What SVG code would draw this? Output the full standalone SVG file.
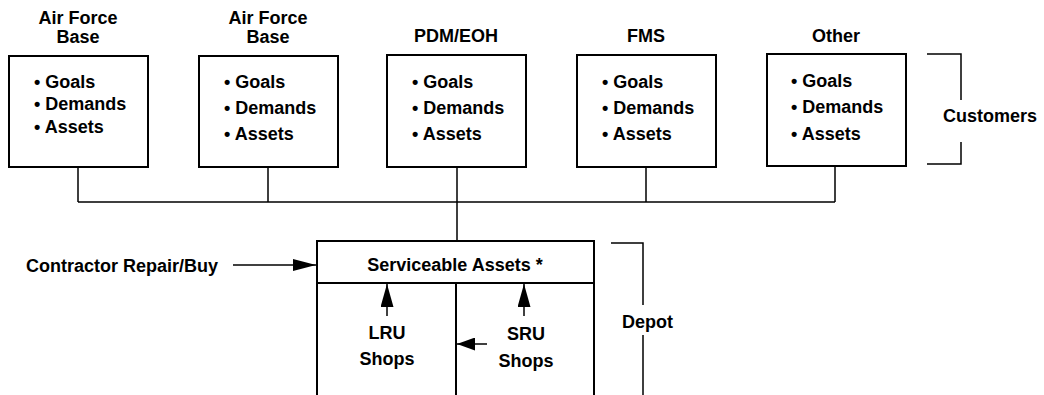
<svg xmlns="http://www.w3.org/2000/svg" width="1044" height="395" viewBox="0 0 1044 395">
<defs>
<style>
text{font-family:"Liberation Sans",Arial,sans-serif;font-weight:bold;font-size:18px;fill:#000}
.c{text-anchor:middle}
.box{fill:#fff;stroke:#000;stroke-width:2}
.ln{fill:none;stroke:#000;stroke-width:1.5}
</style>
<marker id="ahl" viewBox="0 0 10 10" refX="10" refY="5" markerWidth="23" markerHeight="12" markerUnits="userSpaceOnUse" orient="auto" preserveAspectRatio="none">
<path d="M0,0 L10,5 L0,10 z" fill="#000"/>
</marker>
<marker id="ahv" viewBox="0 0 10 10" refX="10" refY="5" markerWidth="23" markerHeight="13" markerUnits="userSpaceOnUse" orient="auto" preserveAspectRatio="none">
<path d="M0,0 L10,5 L0,10 z" fill="#000"/>
</marker>
<marker id="ahh" viewBox="0 0 10 10" refX="10" refY="5" markerWidth="18" markerHeight="13" markerUnits="userSpaceOnUse" orient="auto" preserveAspectRatio="none">
<path d="M0,0 L10,5 L0,10 z" fill="#000"/>
</marker>
</defs>
<rect width="1044" height="395" fill="#fff"/>
<g id="afb1">
<text class="c" x="78" y="24">Air Force</text>
<text class="c" x="78" y="43">Base</text>
<rect class="box" x="9" y="56" width="139" height="111"/>
<text x="34" y="88">• Goals</text>
<text x="34" y="110">• Demands</text>
<text x="34" y="133">• Assets</text>
</g>
<g id="afb2">
<text class="c" x="268" y="24">Air Force</text>
<text class="c" x="268" y="43">Base</text>
<rect class="box" x="199" y="56" width="139" height="111"/>
<text x="224" y="88">• Goals</text>
<text x="224" y="114">• Demands</text>
<text x="224" y="140">• Assets</text>
</g>
<g id="pdm">
<text class="c" x="456" y="42">PDM/EOH</text>
<rect class="box" x="387" y="55" width="139" height="112"/>
<text x="412" y="88">• Goals</text>
<text x="412" y="114">• Demands</text>
<text x="412" y="140">• Assets</text>
</g>
<g id="fms">
<text class="c" x="646" y="42">FMS</text>
<rect class="box" x="577" y="55" width="139" height="112"/>
<text x="602" y="88">• Goals</text>
<text x="602" y="114">• Demands</text>
<text x="602" y="140">• Assets</text>
</g>
<g id="other">
<text class="c" x="836" y="42">Other</text>
<rect class="box" x="767" y="54" width="139" height="112"/>
<text x="791" y="87">• Goals</text>
<text x="791" y="113">• Demands</text>
<text x="791" y="140">• Assets</text>
</g>
<g id="customers">
<path class="ln" d="M927,54 H961 V100 M961,142 V164 H927"/>
<text x="943" y="122">Customers</text>
</g>
<g id="contractor">
<text x="26" y="272">Contractor Repair/Buy</text>
</g>
<g id="depot-box">
<path class="box" d="M317,396 V241 H594 V396"/>
<path class="ln" d="M317,283 H594 M456,283 V396" style="stroke-width:2"/>
<text class="c" x="455" y="271">Serviceable Assets *</text>
</g>
<g id="lru">
<text class="c" x="387" y="339">LRU</text>
<text class="c" x="387" y="365">Shops</text>
</g>
<g id="sru">
<text class="c" x="526" y="340">SRU</text>
<text class="c" x="526" y="367">Shops</text>
</g>
<g id="depot">
<path class="ln" d="M611,243 H643 V305 M643,335 V396"/>
<text x="622" y="328">Depot</text>
</g>
<g id="connectors">
<path class="ln" d="M78,167 V202 M268,167 V202 M457,167 V241 M646,167 V202 M835,166 V202 M78,202 H835"/>
<path class="ln" d="M233,265 H316" marker-end="url(#ahl)"/>
<path class="ln" d="M387,316 V284" marker-end="url(#ahv)"/>
<path class="ln" d="M524,316 V284" marker-end="url(#ahv)"/>
<path class="ln" d="M487,344 H457" marker-end="url(#ahh)"/>
</g>
</svg>
